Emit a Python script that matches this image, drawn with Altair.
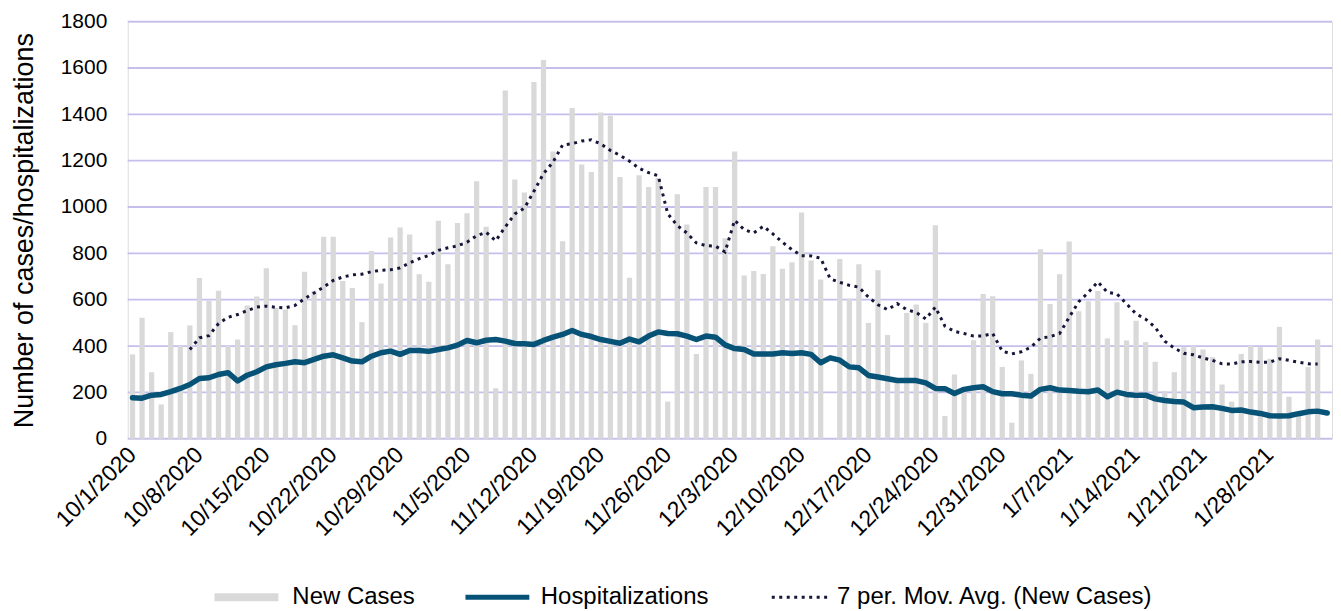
import altair as alt
import pandas as pd

FONT = "Liberation Sans, Arial, Helvetica, sans-serif"
TEXT_COLOR = "#000000"
GRID_COLOR = "#c4bfed"
PLOT_W = 1207
PLOT_H = 418

series_names = ["New Cases", "Hospitalizations", "7 per. Mov. Avg. (New Cases)"]
series_colors = ["#d9d9d9", "#075377", "#16163a"]

first_day = "2020-10-01"
day_count = 126
dates = [f"{d.month}/{d.day}/{d.year}" for d in pd.date_range(first_day, periods=day_count, freq="D")]

tick_labels = ["10/1/2020", "10/8/2020", "10/15/2020", "10/22/2020", "10/29/2020",
               "11/5/2020", "11/12/2020", "11/19/2020", "11/26/2020", "12/3/2020",
               "12/10/2020", "12/17/2020", "12/24/2020", "12/31/2020", "1/7/2021",
               "1/14/2021", "1/21/2021", "1/28/2021"]
y_ticks = [0, 200, 400, 600, 800, 1000, 1200, 1400, 1600, 1800]

new_cases = [
    364, 522, 287, 148, 460, 400, 489, 694, 595, 639,
    402, 428, 575, 614, 736, 565, 558, 490, 721, 639,
    872, 872, 681, 650, 503, 810, 670, 868, 912, 881,
    710, 677, 941, 753, 931, 973, 1111, 915, 218, 1503,
    1119, 1063, 1539, 1635, 1240, 852, 1427, 1184, 1151, 1408,
    1394, 1129, 695, 1137, 1086, 1125, 160, 1055, 925, 366,
    1086, 1086, 865, 1240, 704, 724, 711, 831, 734, 762,
    976, 769, 687, None, 776, 605, 753, 500, 727, 448,
    240, 543, 579, 500, 921, 98, 277, 220, 425, 625,
    615, 310, 69, 338, 280, 818, 581, 710, 851, 550,
    593, 637, 433, 589, 424, 509, 417, 332, 205, 287,
    395, 400, 385, 352, 234, 160, 366, 400, 395, 345,
    483, 181, 110, 309, 428, None,
]

hospitalizations = [
    177, 175, 188, 191, 203, 217, 234, 260, 263, 277,
    285, 249, 274, 289, 310, 319, 325, 332, 328, 342,
    356, 362, 349, 335, 332, 356, 371, 378, 364, 381,
    381, 377, 385, 392, 404, 424, 414, 425, 428, 421,
    411, 410, 407, 424, 438, 450, 467, 450, 441, 428,
    420, 412, 430, 418, 443, 461, 454, 453, 443, 428,
    443, 438, 405, 389, 385, 366, 366, 366, 371, 368,
    371, 364, 328, 349, 339, 310, 306, 273, 266, 259,
    251, 251, 251, 241, 217, 216, 195, 213, 220, 224,
    203, 194, 194, 188, 184, 213, 220, 210, 208, 205,
    203, 210, 181, 201, 191, 187, 188, 172, 165, 161,
    158, 134, 137, 138, 131, 122, 124, 115, 109, 99,
    98, 99, 108, 116, 119, 111,
]

moving_avg = [
    None, None, None, None, None, None, 385, 435, 445, 497,
    524, 536, 553, 568, 572, 567, 565, 575, 604, 629,
    654, 683, 698, 707, 710, 721, 727, 729, 737, 759,
    777, 791, 813, 824, 832, 848, 876, 891, 854, 914,
    970, 995, 1068, 1144, 1194, 1268, 1273, 1285, 1290, 1272,
    1244, 1223, 1198, 1167, 1148, 1135, 971, 920, 888, 845,
    833, 831, 806, 943, 902, 888, 917, 884, 848, 816,
    790, 789, 779, 690, 675, 662, 654, 611, 578, 557,
    583, 557, 545, 517, 568, 486, 463, 454, 443, 444,
    454, 378, 366, 375, 395, 434, 440, 454, 524, 591,
    631, 677, 632, 625, 582, 539, 516, 481, 421, 391,
    369, 362, 349, 338, 323, 322, 332, 333, 330, 330,
    345, 338, 330, 323, 322, None,
]

rows = []
for i, day in enumerate(dates):
    for name, arr in zip(series_names, [new_cases, hospitalizations, moving_avg]):
        if arr[i] is not None:
            rows.append({"date": day, "series": name, "value": arr[i]})
df = pd.DataFrame(rows)
grid_df = pd.DataFrame({"value": y_ticks})

x_enc = alt.X(
    "date:O",
    scale=alt.Scale(domain=dates, paddingInner=0.45, paddingOuter=0.225),
    axis=alt.Axis(
        values=tick_labels, title=None, labelAngle=-45, labelAlign="right",
        labelBaseline="middle", labelPadding=12, labelFontSize=23, labelFont=FONT,
        labelColor=TEXT_COLOR, labelOverlap=False, labelBound=False,
        domain=False, ticks=False, grid=False,
    ),
)
y_scale = alt.Scale(domain=[0, 1800], nice=False, zero=True)
y_enc = alt.Y(
    "value:Q",
    scale=y_scale,
    axis=alt.Axis(
        values=y_ticks, format="d", title="Number of cases/hospitalizations", titleFont=FONT,
        titleFontSize=27, titleFontWeight="normal", titleColor=TEXT_COLOR, titlePadding=22,
        labelFont=FONT, labelFontSize=21, labelColor=TEXT_COLOR, labelPadding=21,
        domain=False, ticks=False, grid=False,
    ),
)

legend_common = dict(
    orient="none", legendY=565, title=None, direction="vertical",
    labelFont=FONT, labelFontSize=24, labelColor=TEXT_COLOR, labelLimit=0,
    symbolSize=256, symbolOpacity=1,
)

grid = alt.Chart(grid_df).mark_rule(color=GRID_COLOR, strokeWidth=1.8).encode(
    y=y_enc,
    x=alt.value(0),
    x2=alt.value(PLOT_W),
)

base = alt.Chart(df)

bars = base.transform_filter(alt.datum.series == series_names[0]).mark_bar().encode(
    x=x_enc, y=y_enc,
    color=alt.Color(
        "series:N",
        scale=alt.Scale(domain=[series_names[0]], range=[series_colors[0]]),
        legend=alt.Legend(legendX=83, symbolType="M-1,-0.5H7V0.5H-1Z",
                          symbolStrokeWidth=0, labelOffset=58,
                          symbolFillColor=series_colors[0], **legend_common),
    ),
)

hosp = base.transform_filter(alt.datum.series == series_names[1]).mark_line(
    strokeWidth=5.5, strokeCap="round", strokeJoin="round"
).encode(
    x=x_enc, y=y_enc,
    color=alt.Color(
        "series:N",
        scale=alt.Scale(domain=[series_names[1]], range=[series_colors[1]]),
        legend=alt.Legend(legendX=337, symbolType="M-1.3125,0H6.6875",
                          symbolStrokeWidth=5, labelOffset=53, **legend_common),
    ),
)

mavg = base.transform_filter(alt.datum.series == series_names[2]).mark_line(
    strokeWidth=3, strokeDash=[3, 4.5]
).encode(
    x=x_enc, y=y_enc,
    color=alt.Color(
        "series:N",
        scale=alt.Scale(domain=[series_names[2]], range=[series_colors[2]]),
        legend=alt.Legend(legendX=643, symbolType="M-1.1875,0H6.3125",
                          symbolStrokeWidth=3, symbolDash=[3, 4.5], labelOffset=44,
                          **legend_common),
    ),
)

chart = (
    alt.layer(grid, bars, hosp, mavg)
    .resolve_scale(color="independent")
    .resolve_legend(color="independent")
    .properties(width=PLOT_W, height=PLOT_H,
                padding={"left": 2, "top": 2, "right": 0, "bottom": 0})
    .configure_view(stroke=None)
    .configure_axis(grid=False, domain=False, ticks=False)
    .configure(background="white")
)

chart.save("out.html", embed_options={"renderer": "svg", "actions": False})
